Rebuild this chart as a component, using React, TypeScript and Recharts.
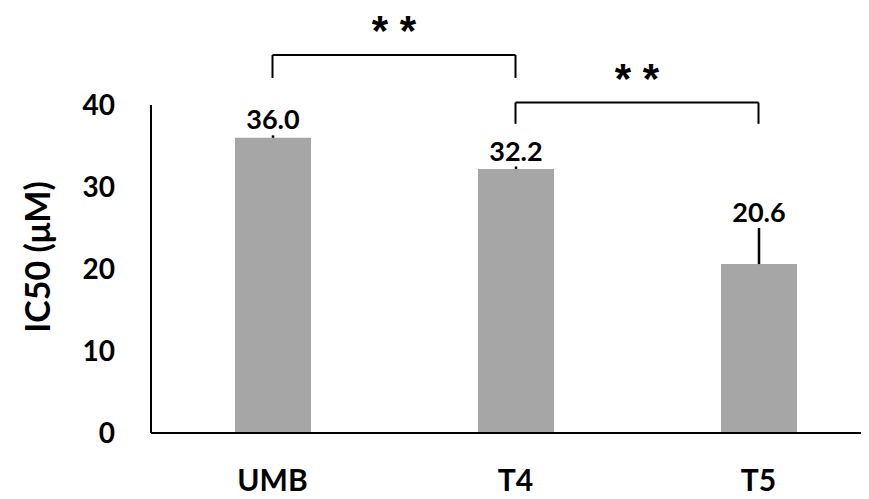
import React from 'react';
import { BarChart, Bar, XAxis, YAxis, ErrorBar, LabelList, ReferenceLine } from 'recharts';

const groups = ['UMB', 'T4', 'T5'];
const ic50 = [36.0, 32.2, 20.6];
const errUp = [0.3, 0.3, 4.4];
const yTicks = [0, 10, 20, 30, 40];

// significance brackets, heights in data units
const brackets = [
  { from: 'UMB', to: 'T4', top: 46.1, foot: 43.3, mark: '* *' },
  { from: 'T4', to: 'T5', top: 40.3, foot: 37.7, mark: '* *' },
];

const data = groups.map((g, i) => ({ name: g, value: ic50[i], err: [0, errUp[i]] }));

const FONT = 'Lato, "Open Sans", sans-serif';

const renderValue = (props: any) => {
  const { x, y, width, height, value, index } = props;
  const top = y - (errUp[index] * height) / value;
  return (
    <text
      x={x + width / 2}
      y={top - 6}
      textAnchor="middle"
      fontFamily={FONT}
      fontWeight={700}
      fontSize={27}
      fill="#000"
    >
      {Number(value).toFixed(1)}
    </text>
  );
};

const renderYLabel = () => (
  <text
    x={50}
    y={257}
    transform="rotate(-90, 50, 257)"
    textAnchor="middle"
    fontFamily={FONT}
    fontWeight={700}
    fontSize={34}
    fill="#000"
  >
    IC50 (μM)
  </text>
);

export default function App() {
  return (
    <div style={{ width: 869, height: 499, overflow: 'hidden', margin: -8, background: '#fff' }}>
      <BarChart
        width={880}
        height={499}
        data={data}
        margin={{ top: 105, right: 0, bottom: 0, left: 0 }}
        barCategoryGap={0}
      >
        <XAxis
          dataKey="name"
          height={66}
          axisLine={{ stroke: '#000', strokeWidth: 2 }}
          tickLine={false}
          tickSize={0}
          tickMargin={37}
          tick={{ fill: '#000', fontFamily: FONT, fontWeight: 700, fontSize: 30 }}
        />
        <YAxis
          width={151}
          domain={[0, 40]}
          ticks={yTicks}
          axisLine={{ stroke: '#000', strokeWidth: 2 }}
          tickLine={false}
          tickSize={0}
          tickMargin={36}
          tick={{ fill: '#000', fontFamily: FONT, fontWeight: 700, fontSize: 28 }}
          label={{ content: renderYLabel }}
        />
        <Bar dataKey="value" fill="#A6A6A6" barSize={76} isAnimationActive={false}>
          <ErrorBar dataKey="err" width={0} stroke="#000" strokeWidth={2.5} direction="y" />
          <LabelList dataKey="value" content={renderValue} />
        </Bar>
        {brackets.map((b, i) => (
          <React.Fragment key={i}>
            <ReferenceLine
              segment={[{ x: b.from, y: b.top }, { x: b.to, y: b.top }]}
              stroke="#000"
              strokeWidth={2}
              ifOverflow="visible"
              label={{
                value: b.mark,
                position: 'top',
                offset: 10,
                fill: '#000',
                fontFamily: '"Liberation Sans", Arial, sans-serif',
                fontWeight: 700,
                fontSize: 42,
              }}
            />
            <ReferenceLine
              segment={[{ x: b.from, y: b.top }, { x: b.from, y: b.foot }]}
              stroke="#000"
              strokeWidth={2}
              ifOverflow="visible"
            />
            <ReferenceLine
              segment={[{ x: b.to, y: b.top }, { x: b.to, y: b.foot }]}
              stroke="#000"
              strokeWidth={2}
              ifOverflow="visible"
            />
          </React.Fragment>
        ))}
      </BarChart>
    </div>
  );
}
